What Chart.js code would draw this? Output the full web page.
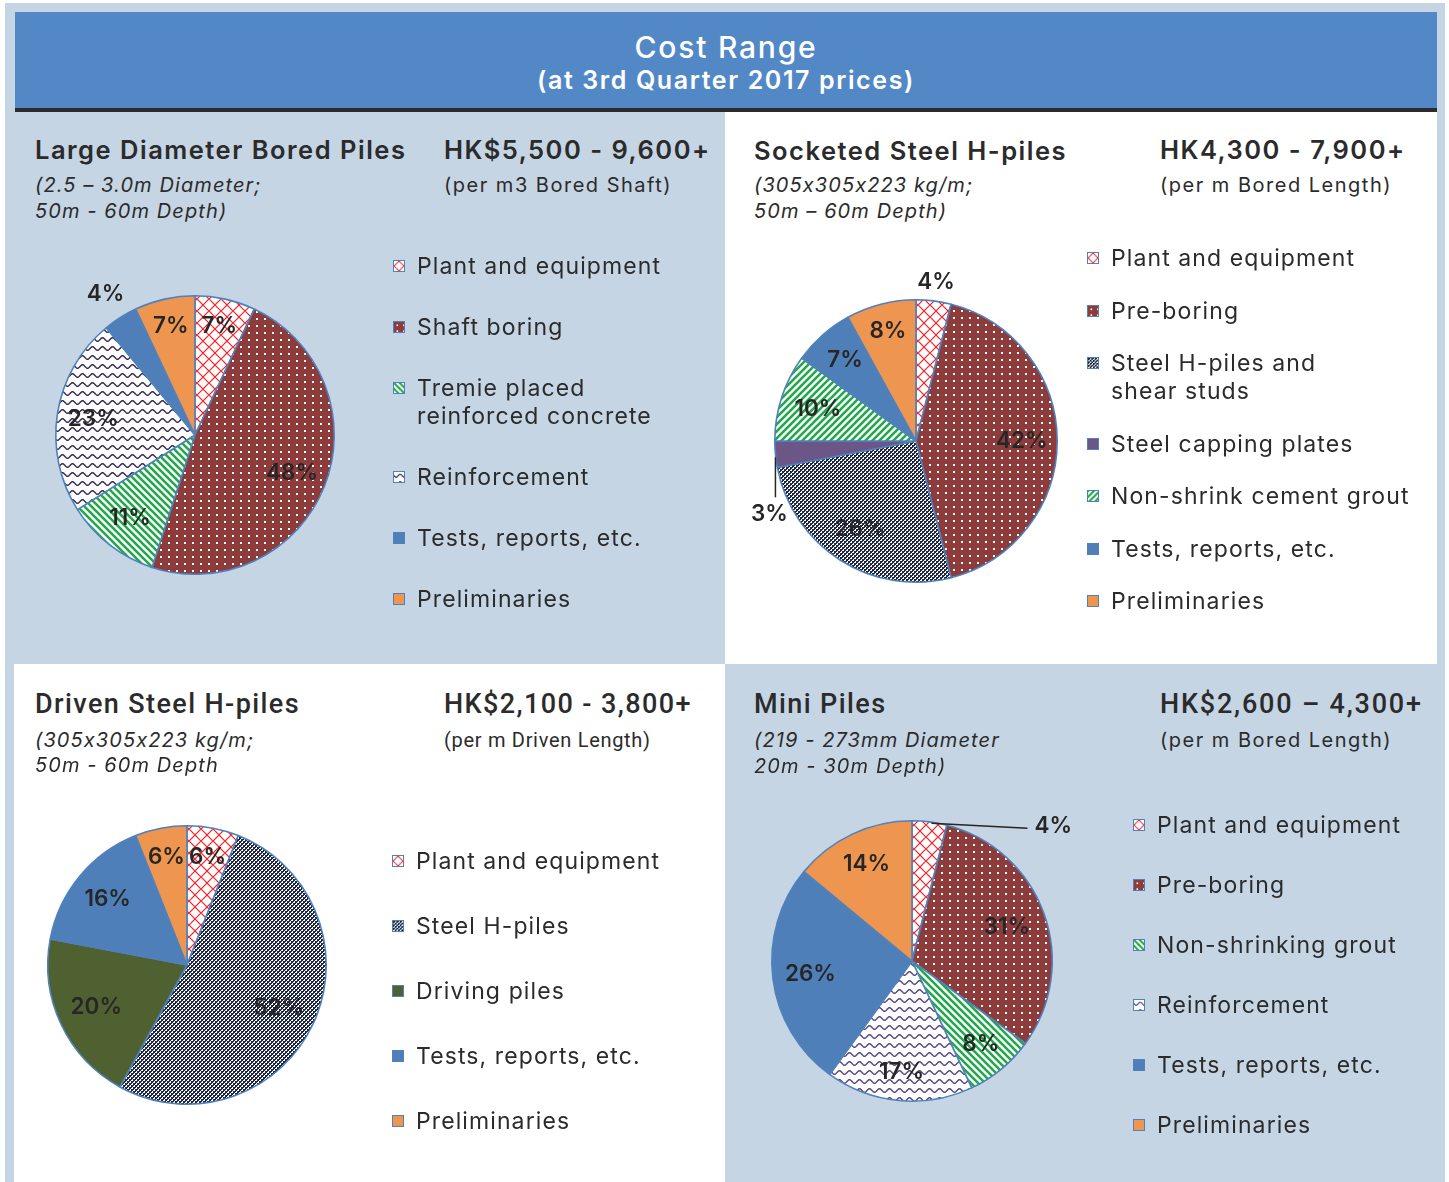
<!DOCTYPE html>
<html>
<head>
<meta charset="utf-8">
<script src="https://cdn.jsdelivr.net/npm/chart.js@4.4.1/dist/chart.umd.min.js"></script>
<style>
  body { margin: 0; background: #fff; width: 1449px; height: 1182px; overflow: hidden; position: relative; font-family: Inter, "Open Sans", sans-serif; color: #2b2b2b; font-feature-settings: "calt" 0; }
  .box { position: absolute; }
  .t { position: absolute; white-space: nowrap; line-height: 1; }
  .ttl { font-size: 25.5px; font-weight: 600; letter-spacing: 1.5px; }
  .nar { font-family: Roboto, sans-serif; font-weight: 500; font-size: 27px; letter-spacing: 1.4px; }
  .sub { font-size: 20px; font-style: italic; letter-spacing: 1.1px; }
  .per { font-size: 20px; letter-spacing: 1.5px; }
  .pie { position: absolute; }
  .leg { position: absolute; display: flex; flex-direction: column; font-size: 23px; line-height: 28px; letter-spacing: 1.1px; }
  .leg .it { display: flex; align-items: flex-start; white-space: pre; }
  .leg canvas { width: 12px; height: 12px; margin-top: 8px; margin-right: 12px; box-sizing: border-box; border: 1.5px solid #4f81bd; }
</style>
</head>
<body>
<div class="box" style="left:5px;top:3px;width:1440px;height:1179px;background:#c5d5e4"></div>
<div class="box" style="left:15px;top:12px;width:1422px;height:96px;background:#5388c7;border-bottom:4px solid #2b2b2b"></div>
<div class="box" style="left:725px;top:112px;width:712px;height:552px;background:#fff"></div>
<div class="box" style="left:14px;top:664px;width:711px;height:518px;background:#fff"></div>

<canvas id="pie1" class="pie" width="380" height="380" style="left:5px;top:245px"></canvas>
<canvas id="pie2" class="pie" width="380" height="380" style="left:726px;top:251px"></canvas>
<canvas id="pie3" class="pie" width="380" height="380" style="left:-3px;top:775px"></canvas>
<canvas id="pie4" class="pie" width="380" height="380" style="left:722px;top:771px"></canvas>

<div class="t" style="left:0;width:1452px;text-align:center;top:32px;font-size:30px;font-weight:500;letter-spacing:1.8px;color:#fff">Cost Range</div>
<div class="t" style="left:0;width:1452px;text-align:center;top:68px;font-size:25px;font-weight:600;letter-spacing:1.6px;color:#fff">(at 3rd Quarter 2017 prices)</div>

<div class="t ttl" style="left:35px;top:137px">Large Diameter Bored Piles</div>
<div class="t ttl" style="left:444px;top:137px">HK$5,500 - 9,600+</div>
<div class="t sub" style="left:35px;top:175px">(2.5 – 3.0m Diameter;</div>
<div class="t sub" style="left:35px;top:201px">50m - 60m Depth)</div>
<div class="t per" style="left:444px;top:175px">(per m3 Bored Shaft)</div>

<div class="t ttl" style="left:754px;top:138px">Socketed Steel H-piles</div>
<div class="t ttl" style="left:1160px;top:137px">HK4,300 - 7,900+</div>
<div class="t sub" style="left:754px;top:175px">(305x305x223 kg/m;</div>
<div class="t sub" style="left:754px;top:201px">50m – 60m Depth)</div>
<div class="t per" style="left:1160px;top:175px">(per m Bored Length)</div>

<div class="t nar" style="left:35px;top:691px">Driven Steel H-piles</div>
<div class="t nar" style="left:444px;top:691px">HK$2,100 - 3,800+</div>
<div class="t sub" style="left:35px;top:730px">(305x305x223 kg/m;</div>
<div class="t sub" style="left:35px;top:755px">50m - 60m Depth</div>
<div class="t per" style="left:444px;top:730px;font-family:Roboto,sans-serif;font-size:20px;letter-spacing:0.7px">(per m Driven Length)</div>

<div class="t nar" style="left:754px;top:691px">Mini Piles</div>
<div class="t nar" style="left:1160px;top:691px;letter-spacing:1.8px">HK$2,600 – 4,300+</div>
<div class="t sub" style="left:754px;top:730px">(219 - 273mm Diameter</div>
<div class="t sub" style="left:754px;top:756px">20m - 30m Depth)</div>
<div class="t per" style="left:1160px;top:730px">(per m Bored Length)</div>

<div id="leg1" class="leg" style="left:393px;top:252px;gap:33px"></div>
<div id="leg2" class="leg" style="left:1087px;top:244px;gap:24.5px"></div>
<div id="leg3" class="leg" style="left:392px;top:847px;gap:37px"></div>
<div id="leg4" class="leg" style="left:1133px;top:811px;gap:32px"></div>

<script>
// Large Diameter Bored Piles
const boredLabels = ['Plant and equipment', 'Shaft boring', 'Tremie placed\nreinforced concrete', 'Reinforcement', 'Tests, reports, etc.', 'Preliminaries']
const boredValues = [7, 48, 11, 23, 4, 7]
// Socketed Steel H-piles
const socketLabels = ['Plant and equipment', 'Pre-boring', 'Steel H-piles and\nshear studs', 'Steel capping plates', 'Non-shrink cement grout', 'Tests, reports, etc.', 'Preliminaries']
const socketValues = [4, 42, 26, 3, 10, 7, 8]
// Driven Steel H-piles
const drivenLabels = ['Plant and equipment', 'Steel H-piles', 'Driving piles', 'Tests, reports, etc.', 'Preliminaries']
const drivenValues = [6, 52, 20, 16, 6]
// Mini Piles
const miniLabels = ['Plant and equipment', 'Pre-boring', 'Non-shrinking grout', 'Reinforcement', 'Tests, reports, etc.', 'Preliminaries']
const miniValues = [4, 31, 8, 17, 26, 14]

// fill styles per slice
const boredFills = ['lattice', 'dots', 'stripeB', 'wave', 'tests', 'prelim']
const socketFills = ['lattice', 'dots', 'check', 'capping', 'stripeF', 'tests', 'prelim']
const drivenFills = ['lattice', 'check', 'driving', 'tests', 'prelim']
const miniFills = ['lattice', 'dots', 'stripeB', 'wave2', 'tests', 'prelim']

function tile(w, h, draw) {
    var c = document.createElement('canvas');
    c.width = w; c.height = h;
    var x = c.getContext('2d');
    draw(x, w, h);
    return document.createElement('canvas').getContext('2d').createPattern(c, 'repeat');
}
function wave(col) {
    return tile(10, 9, function (x, w, h) {
        x.fillStyle = '#fff'; x.fillRect(0, 0, w, h);
        x.strokeStyle = col; x.lineWidth = 1.5;
        x.beginPath();
        for (var i = -1; i <= 11; i += 0.5) {
            var yy = 4.5 + 1.8 * Math.sin(2 * Math.PI * i / 10);
            if (i === -1) x.moveTo(i, yy); else x.lineTo(i, yy);
        }
        x.stroke();
    });
}
function stripe(back) {
    return tile(7, 7, function (x, w, h) {
        x.fillStyle = '#fff'; x.fillRect(0, 0, w, h);
        x.strokeStyle = '#21a84a'; x.lineWidth = 2.6;
        x.beginPath();
        for (var k = -1; k <= 1; k++) {
            if (back) { x.moveTo(k * w - 1, -1); x.lineTo(k * w + w + 1, h + 1); }
            else { x.moveTo(k * w - 1, h + 1); x.lineTo(k * w + w + 1, -1); }
        }
        x.stroke();
    });
}
const fillStyles = {
    lattice: tile(12, 12, function (x, w, h) {
        x.fillStyle = '#fff'; x.fillRect(0, 0, w, h);
        x.strokeStyle = '#f0282d'; x.lineWidth = 1.2;
        x.beginPath();
        x.moveTo(0, 6); x.lineTo(6, 0); x.lineTo(12, 6); x.lineTo(6, 12); x.closePath();
        x.stroke();
    }),
    dots: tile(8, 7, function (x, w, h) {
        x.fillStyle = '#8e3b3b'; x.fillRect(0, 0, w, h);
        x.fillStyle = '#fff'; x.fillRect(3, 3, 2, 2);
    }),
    stripeB: stripe(true),
    stripeF: stripe(false),
    wave: wave('#3a2d4f'),
    wave2: wave('#5a4a7e'),
    check: tile(4, 4, function (x, w, h) {
        x.fillStyle = '#fff'; x.fillRect(0, 0, w, h);
        x.fillStyle = '#1d2744';
        x.fillRect(0, 0, 2, 2); x.fillRect(2, 2, 2, 2);
        x.fillRect(2, 0, 1, 1); x.fillRect(0, 2, 1, 1);
    }),
    tests: '#4f7fb8',
    prelim: '#ee9650',
    capping: '#6b5687',
    driving: '#4f6130'
}

const pctLabels = {
    id: 'pctLabels',
    afterDatasetsDraw(chart, args, opts) {
        var ctx = chart.ctx;
        var vals = chart.data.datasets[0].data;
        var rad = opts.radius || {};
        var leads = opts.leaders || {};
        ctx.save();
        ctx.font = '600 22.5px Inter, sans-serif';
        ctx.fillStyle = '#262626';
        ctx.strokeStyle = '#262626';
        ctx.lineWidth = 1.5;
        ctx.textAlign = 'center';
        ctx.textBaseline = 'middle';
        chart.getDatasetMeta(0).data.forEach(function (arc, i) {
            var p = arc.getProps(['x', 'y', 'startAngle', 'endAngle', 'outerRadius'], true);
            var mid = (p.startAngle + p.endAngle) / 2;
            var px, py;
            if (leads[i]) {
                var l = leads[i];
                var ax = p.x + Math.cos(mid) * p.outerRadius * l.r;
                var ay = p.y + Math.sin(mid) * p.outerRadius * l.r;
                ctx.beginPath();
                ctx.moveTo(ax + l.line[0], ay + l.line[1]);
                ctx.lineTo(ax + l.line[2], ay + l.line[3]);
                ctx.stroke();
                px = ax + l.text[0]; py = ay + l.text[1];
            } else {
                var r = rad[i] !== undefined ? rad[i] : 0.75;
                px = p.x + Math.cos(mid) * p.outerRadius * r;
                py = p.y + Math.sin(mid) * p.outerRadius * r;
            }
            ctx.fillText(vals[i] + '%', px, py);
        });
        ctx.restore();
    }
}

function makePie(id, labels, values, fills, pad, labelOpts) {
    return new Chart(document.getElementById(id), {
        type: 'pie',
        data: {
            labels: labels,
            datasets: [{
                data: values,
                backgroundColor: fills.map(function (f) { return fillStyles[f]; }),
                borderColor: '#4f81bd',
                borderWidth: 1.6
            }]
        },
        options: {
            responsive: false,
            animation: false,
            layout: { padding: pad },
            plugins: { legend: { display: false }, tooltip: { enabled: false }, pctLabels: labelOpts }
        },
        plugins: [pctLabels]
    });
}

function makeLegend(id, labels, fills) {
    var el = document.getElementById(id);
    labels.forEach(function (lab, i) {
        var it = document.createElement('div');
        it.className = 'it';
        var sw = document.createElement('canvas');
        sw.width = 12; sw.height = 12;
        var c = sw.getContext('2d');
        c.fillStyle = fillStyles[fills[i]];
        c.fillRect(0, 0, 12, 12);
        it.appendChild(sw);
        var tx = document.createElement('span');
        tx.textContent = lab;
        it.appendChild(tx);
        el.appendChild(it);
    });
}

var chartBored = makePie('pie1', boredLabels, boredValues, boredFills, 50,
    { radius: { 0: 0.8, 1: 0.75, 2: 0.76, 3: 0.74, 4: 1.2, 5: 0.8 } });
var chartSocket = makePie('pie2', socketLabels, socketValues, socketFills, 48,
    { radius: { 0: 1.13, 2: 0.74, 4: 0.73, 5: 0.76, 6: 0.8 },
      leaders: { 3: { r: 1.0, line: [0, 3, 0, 43], text: [-6, 60] } } });
var chartDriven = makePie('pie3', drivenLabels, drivenValues, drivenFills, 50,
    { radius: { 0: 0.79, 1: 0.73, 2: 0.72, 3: 0.74, 4: 0.79 } });
var chartMini = makePie('pie4', miniLabels, miniValues, miniFills, 49,
    { radius: { 1: 0.72, 2: 0.77, 3: 0.8, 4: 0.73, 5: 0.76 },
      leaders: { 0: { r: 0.99, line: [2, 0, 98, 5], text: [124, 3] } } });

makeLegend('leg1', boredLabels, boredFills);
makeLegend('leg2', socketLabels, socketFills);
makeLegend('leg3', drivenLabels, drivenFills);
makeLegend('leg4', miniLabels, miniFills);
</script>
</body>
</html>
